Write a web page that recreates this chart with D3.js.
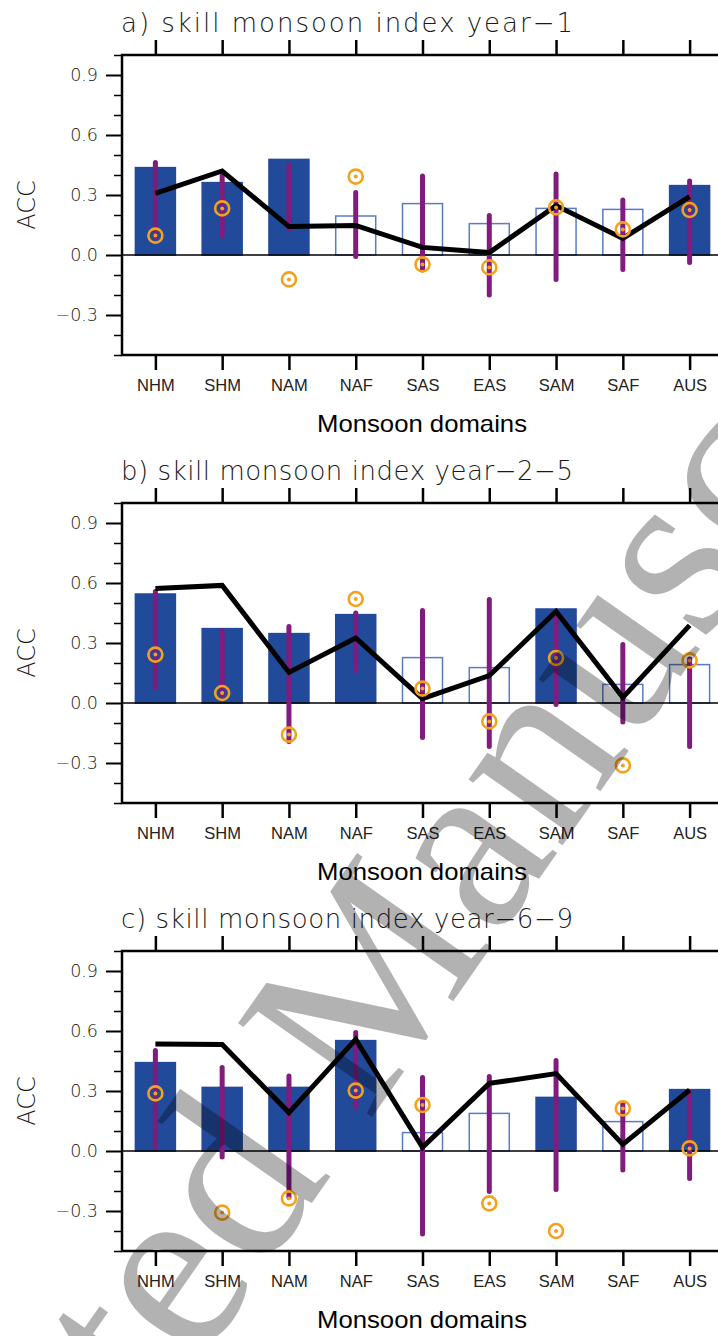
<!DOCTYPE html>
<html><head><meta charset="utf-8">
<script src="https://cdn.jsdelivr.net/npm/d3@7"></script>
<style>
html,body{margin:0;padding:0;background:#fff;}
svg{display:block;}
</style></head>
<body>
<svg id="chart" width="718" height="1336"></svg>
<script>
const categories = ["NHM","SHM","NAM","NAF","SAS","EAS","SAM","SAF","AUS"];
const titles = ["a) skill monsoon index year\u22121","b) skill monsoon index year\u22122\u22125","c) skill monsoon index year\u22126\u22129"];
const yTicks = [0.9,0.6,0.3,0.0,-0.3];
const yTickLabels = ["0.9","0.6","0.3","0.0","\u22120.3"];

// panel a
const barA = [0.437,0.362,0.478,0.195,0.257,0.157,0.233,0.228,0.347];
const sigA = [1,1,1,0,0,0,0,0,1];
const lineA = [0.308,0.420,0.142,0.148,0.038,0.012,0.247,0.083,0.292];
const dotA = [0.097,0.233,-0.122,0.392,-0.047,-0.062,0.238,0.128,0.225];
const loA = [0.09,0.095,0.13,-0.008,-0.075,-0.200,-0.122,-0.072,-0.037];
const hiA = [0.463,0.397,0.45,0.312,0.395,0.198,0.405,0.275,0.37];
// panel b
const barB = [0.545,0.372,0.347,0.442,0.227,0.177,0.470,0.093,0.192];
const sigB = [1,1,1,1,0,0,1,0,0];
const lineB = [0.572,0.588,0.153,0.325,0.022,0.137,0.458,0.028,0.388];
const dotB = [0.242,0.050,-0.158,0.520,0.072,-0.092,0.225,-0.312,0.213];
const loB = [0.075,0.04,-0.192,0.162,-0.172,-0.217,-0.008,-0.095,-0.217];
const hiB = [0.558,0.362,0.383,0.45,0.463,0.517,0.433,0.292,0.22];
// panel c
const barC = [0.442,0.318,0.318,0.552,0.092,0.188,0.268,0.147,0.307];
const sigC = [1,1,1,1,0,0,1,0,1];
const lineC = [0.535,0.533,0.192,0.558,0.018,0.338,0.387,0.033,0.305];
const dotC = [0.288,-0.308,-0.237,0.302,0.230,-0.262,-0.400,0.213,0.013];
const loC = [0.017,-0.030,-0.232,0.217,-0.415,-0.203,-0.192,-0.095,-0.137];
const hiC = [0.502,0.417,0.375,0.592,0.367,0.372,0.452,0.238,0.297];

const panels = [
  {title:titles[0], bar:barA, sig:sigA, line:lineA, dot:dotA, lo:loA, hi:hiA},
  {title:titles[1], bar:barB, sig:sigB, line:lineB, dot:dotB, lo:loB, hi:hiB},
  {title:titles[2], bar:barC, sig:sigC, line:lineC, dot:dotC, lo:loC, hi:hiC}
];

const svg = d3.select("#chart");
const thin = "'DejaVu Sans', Lato, sans-serif";
const sans = "'Liberation Sans', Arial, sans-serif";
const boxL = 122, boxR = 723, plotH = 300;
const tops = [55, 503, 951];
const blue = "#224a9a", blueLine = "#5a7cc8", purple = "#7f1c7e", orange = "#f5a11c";

const x = d3.scaleLinear().domain([0.5, 9.5]).range([boxL, boxR]);

panels.forEach((p, pi) => {
  const top = tops[pi];
  const y = d3.scaleLinear().domain([-0.5, 1.0]).range([top + plotH, top]);
  const g = svg.append("g");
  const idx = d3.range(categories.length);
  const bw = 40;

  g.selectAll("rect.bar").data(idx).join("rect")
    .attr("x", i => x(i + 1) - bw / 2)
    .attr("y", i => y(p.bar[i]))
    .attr("width", bw)
    .attr("height", i => y(0) - y(p.bar[i]))
    .attr("fill", i => p.sig[i] ? blue : "#fff")
    .attr("stroke", i => p.sig[i] ? blue : blueLine)
    .attr("stroke-width", 1.5);

  g.append("line").attr("x1", boxL).attr("x2", boxR).attr("y1", y(0)).attr("y2", y(0))
    .attr("stroke", "#000").attr("stroke-width", 1.5);

  g.selectAll("line.rng").data(idx).join("line")
    .attr("x1", i => x(i + 1)).attr("x2", i => x(i + 1))
    .attr("y1", i => y(p.hi[i])).attr("y2", i => y(p.lo[i]))
    .attr("stroke", purple).attr("stroke-width", 5).attr("stroke-linecap", "round");

  const ln = d3.line().x((d, i) => x(i + 1)).y(d => y(d));
  g.append("path").attr("d", ln(p.line)).attr("fill", "none")
    .attr("stroke", "#000").attr("stroke-width", 5).attr("stroke-linejoin", "miter");

  g.selectAll("circle.ring").data(idx).join("circle")
    .attr("cx", i => x(i + 1)).attr("cy", i => y(p.dot[i])).attr("r", 7)
    .attr("fill", "none").attr("stroke", orange).attr("stroke-width", 2.6);
  g.selectAll("circle.dot").data(idx).join("circle")
    .attr("cx", i => x(i + 1)).attr("cy", i => y(p.dot[i])).attr("r", 2)
    .attr("fill", orange);

  g.append("path")
    .attr("d", `M${boxR + 5},${top}H${boxL}V${top + plotH}H${boxR + 5}`)
    .attr("fill", "none").attr("stroke", "#000").attr("stroke-width", 2.5);

  const yAxis = d3.axisLeft(y).tickValues(yTicks).tickSize(16)
    .tickFormat((d, i) => yTickLabels[i]).tickPadding(8);
  const ya = g.append("g").attr("transform", `translate(${boxL},0)`).call(yAxis);
  ya.select(".domain").remove();
  ya.selectAll(".tick line").attr("stroke", "#000").attr("stroke-width", 2);
  ya.selectAll(".tick text").attr("font-family", thin).attr("font-weight", 200)
    .attr("font-size", 17.5).attr("fill", "#1a1a1a");
  const minor = d3.range(-5, 11).map(k => k / 10).filter(v => !yTicks.some(t => Math.abs(t - v) < 1e-6));
  const ym = d3.axisLeft(y).tickValues(minor).tickSize(8).tickFormat("");
  const yma = g.append("g").attr("transform", `translate(${boxL},0)`).call(ym);
  yma.select(".domain").remove();
  yma.selectAll(".tick line").attr("stroke", "#000").attr("stroke-width", 1.5);

  const xAxis = d3.axisBottom(x).tickValues(d3.range(1, 10)).tickSize(15)
    .tickFormat(d => categories[d - 1]).tickPadding(9);
  const xa = g.append("g").attr("transform", `translate(0,${top + plotH})`).call(xAxis);
  xa.select(".domain").remove();
  xa.selectAll(".tick line").attr("stroke", "#000").attr("stroke-width", 2.5);
  xa.selectAll(".tick text").attr("font-family", sans).attr("font-size", 16.5).attr("fill", "#222");

  const xt = d3.axisTop(x).tickValues(d3.range(1, 10)).tickSize(15).tickFormat("");
  const xta = g.append("g").attr("transform", `translate(0,${top})`).call(xt);
  xta.select(".domain").remove();
  xta.selectAll(".tick line").attr("stroke", "#000").attr("stroke-width", 2.5);

  g.append("text").attr("x", 121).attr("y", top - 23)
    .attr("font-family", thin).attr("font-weight", 200).attr("font-size", 26)
    .attr("fill", "#1a1a1a").attr("textLength", 452).attr("lengthAdjust", "spacing")
    .text(p.title);

  g.append("text").attr("x", 422).attr("y", top + 377).attr("text-anchor", "middle")
    .attr("font-family", sans).attr("font-size", 24).attr("fill", "#000")
    .attr("textLength", 210).attr("lengthAdjust", "spacingAndGlyphs")
    .text("Monsoon domains");
  g.append("text").attr("transform", `translate(35,${top + 150}) rotate(-90)`)
    .attr("text-anchor", "middle").attr("font-family", thin).attr("font-weight", 200)
    .attr("font-size", 24).attr("fill", "#1a1a1a").text("ACC");
});

// watermark
const wm = svg.append("text")
  .attr("font-family", "'Liberation Serif', 'Times New Roman', serif")
  .attr("font-size", 250).attr("fill", "#000").attr("fill-opacity", 0.3)
  .text("Accepted Manuscript");
const pre = wm.node().getSubStringLength(0, 9);
wm.attr("x", -pre).attr("transform", "translate(368,1123) rotate(-55)");
</script>
</body></html>
